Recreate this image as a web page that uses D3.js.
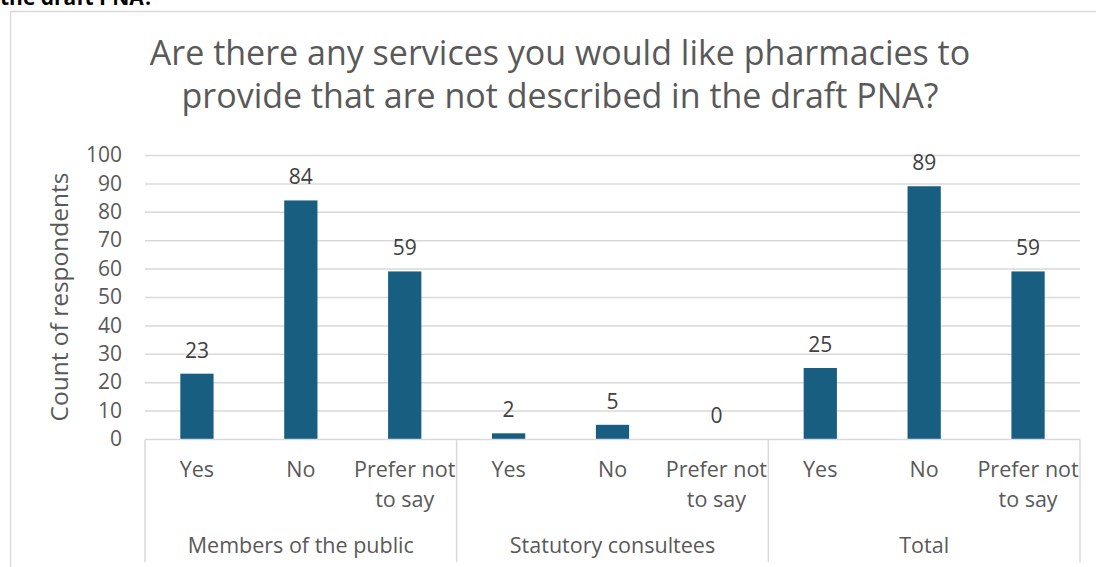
<!DOCTYPE html>
<html>
<head>
<meta charset="utf-8">
<script src="https://cdn.jsdelivr.net/npm/d3@7"></script>
<style>
  html, body { margin: 0; padding: 0; background: #ffffff; }
  svg { display: block; }
  text { font-family: "Open Sans", "Noto Sans", sans-serif; }
</style>
</head>
<body>
<svg id="chart" width="1096" height="567"></svg>
<script>
// Survey response counts by respondent group
const groups = ["Members of the public", "Statutory consultees", "Total"];
const answers = ["Yes", "No", "Prefer not to say"];
const answerLines = [["Yes"], ["No"], ["Prefer not", "to say"]];
const publicCounts = [23, 84, 59];
const statutoryCounts = [2, 5, 0];
const totalCounts = [25, 89, 59];
const yTicks = [0, 10, 20, 30, 40, 50, 60, 70, 80, 90, 100];
const titleLines = ["Are there any services you would like pharmacies to", "provide that are not described in the draft PNA?"];

const seriesByGroup = [publicCounts, statutoryCounts, totalCounts];
const rows = [];
groups.forEach((g, gi) => {
  answers.forEach((a, ai) => {
    rows.push({ key: gi + "-" + ai, group: g, gi, ai, answer: a, value: seriesByGroup[gi][ai] });
  });
});

const svg = d3.select("#chart");
const textColor = "#595959";
const gridColor = "#d9d9d9";
const barColor = "#175e80";
const fontFamily = "Open Sans, Noto Sans, sans-serif";
const labelSize = 21.5;

// Heading text above the chart frame (partially cut off at the top)
svg.append("text")
  .attr("x", 0).attr("y", 5)
  .attr("font-size", 21).attr("font-weight", "bold").attr("fill", "#000")
  .text("the draft PNA?");

// Chart frame
svg.append("rect")
  .attr("x", 10.5).attr("y", 11.5)
  .attr("width", 1100).attr("height", 570)
  .attr("fill", "#fff").attr("stroke", gridColor).attr("stroke-width", 1.5);

const plot = { left: 145, right: 1080, top: 155, bottom: 439 };

const x = d3.scaleBand()
  .domain(rows.map(d => d.key))
  .range([plot.left, plot.right])
  .paddingInner(0.68)
  .paddingOuter(0.34);

const y = d3.scaleLinear().domain([0, 100]).range([plot.bottom, plot.top]);

// Title
svg.append("g").selectAll("text")
  .data(titleLines).join("text")
  .attr("x", 560).attr("y", (d, i) => 65 + i * 43)
  .attr("text-anchor", "middle")
  .attr("font-size", 34).attr("fill", textColor)
  .text(d => d);

// Gridlines + y tick labels
const yAxis = d3.axisLeft(y).tickValues(yTicks).tickSize(-(plot.right - plot.left)).tickPadding(23);
const gy = svg.append("g").attr("transform", `translate(${plot.left},0)`).call(yAxis);
gy.select(".domain").remove();
gy.selectAll(".tick line").attr("stroke", gridColor).attr("stroke-width", 1.5);
gy.selectAll(".tick line").filter(d => d === 0).remove();
gy.selectAll(".tick text")
  .attr("font-size", 21).attr("fill", textColor)
  .attr("font-family", fontFamily);

// Y axis title
svg.append("text")
  .attr("transform", "translate(68,297) rotate(-90)")
  .attr("text-anchor", "middle")
  .attr("font-size", 24.5).attr("fill", textColor)
  .text("Count of respondents");

// Bars
svg.append("g").selectAll("rect")
  .data(rows).join("rect")
  .attr("x", d => x(d.key))
  .attr("width", x.bandwidth())
  .attr("y", d => y(d.value))
  .attr("height", d => y(0) - y(d.value))
  .attr("fill", barColor);

// Value labels
svg.append("g").selectAll("text")
  .data(rows).join("text")
  .attr("x", d => x(d.key) + x.bandwidth() / 2)
  .attr("y", d => y(d.value) - 16)
  .attr("text-anchor", "middle")
  .attr("font-size", 21).attr("fill", "#404040")
  .text(d => d.value);

// Category axis: baseline and group dividers
const axisG = svg.append("g").attr("stroke", gridColor).attr("stroke-width", 1.5);
axisG.append("line")
  .attr("x1", plot.left).attr("x2", plot.right)
  .attr("y1", plot.bottom + 0.5).attr("y2", plot.bottom + 0.5);
const groupWidth = (plot.right - plot.left) / groups.length;
d3.range(groups.length + 1).forEach(i => {
  const gx = plot.left + i * groupWidth;
  axisG.append("line")
    .attr("x1", gx).attr("x2", gx)
    .attr("y1", plot.bottom + 0.5).attr("y2", 562);
});

// Answer labels
const ansG = svg.append("g").attr("font-size", labelSize).attr("fill", textColor).attr("text-anchor", "middle");
rows.forEach(d => {
  const cx = x(d.key) + x.bandwidth() / 2;
  answerLines[d.ai].forEach((line, li) => {
    ansG.append("text")
      .attr("x", cx).attr("y", 477 + li * 30)
      .text(line);
  });
});

// Group labels
svg.append("g").selectAll("text")
  .data(groups).join("text")
  .attr("x", (d, i) => plot.left + (i + 0.5) * groupWidth)
  .attr("y", 553)
  .attr("text-anchor", "middle")
  .attr("font-size", labelSize).attr("fill", textColor)
  .text(d => d);
</script>
</body>
</html>
